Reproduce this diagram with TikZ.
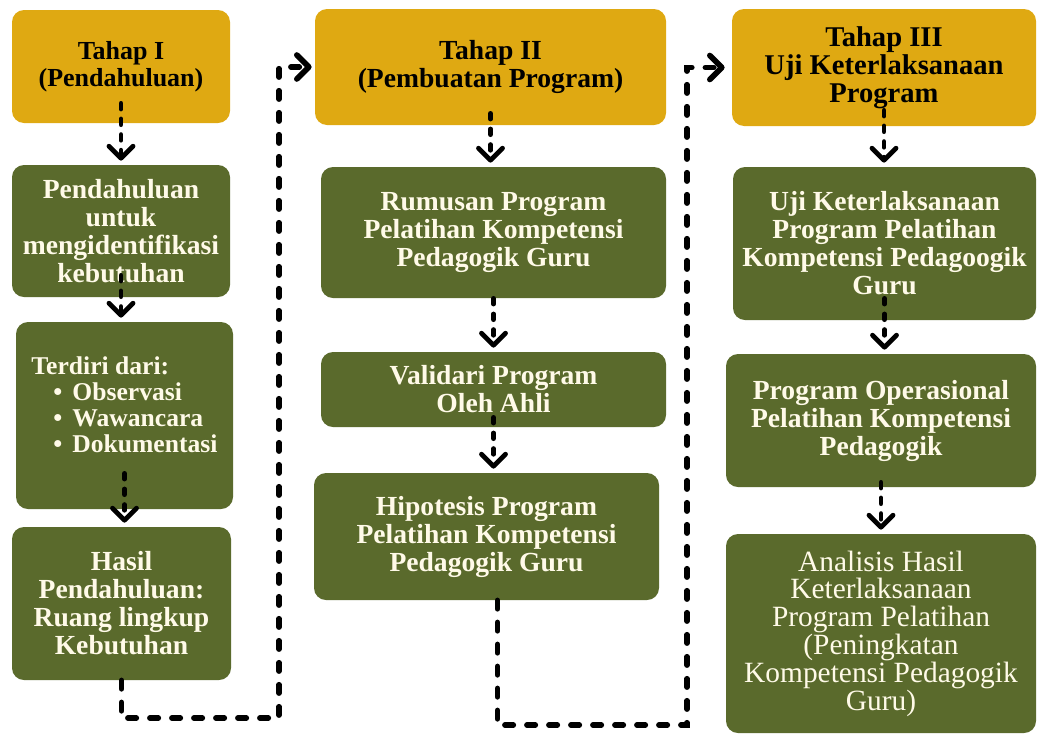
\documentclass[tikz,border=0pt]{standalone}
\usepackage{fontspec}
\setmainfont{Liberation Serif}
\usepackage{xcolor}
\usetikzlibrary{arrows.meta}
\definecolor{kuning}{RGB}{223,169,18}
\definecolor{hijau}{RGB}{90,106,44}
\definecolor{krem}{RGB}{255,250,232}
\tikzset{tahap/.style={fill=kuning, rounded corners=6pt, align=center, inner sep=0pt, text=black, font=\fontsize{13.8}{14}\selectfont\bfseries},
  kegiatan/.style={fill=hijau, rounded corners=6pt, align=center, inner sep=0pt, text=krem, font=\fontsize{13.8}{14}\selectfont\bfseries},
  alur/.style={line width=2.4pt, dash pattern=on 2.8pt off 5pt, line cap=round, -{Straight Barb[length=6pt,width=12pt,round]}, shorten >=2pt},
  alurpanjang/.style={line width=2.8pt, dash pattern=on 4.2pt off 6.8pt, line cap=round, -{Straight Barb[length=6pt,width=12pt,round]}}}

\begin{document}
\begin{tikzpicture}[x=0.5pt,y=-0.5pt]
\useasboundingbox (0,0) rectangle (1037,734);
%% Tahap I
\node (tahapI) at (121,66.5) [tahap, minimum width=109pt, minimum height=56.5pt, font=\fontsize{13}{13.5}\selectfont\bfseries] {Tahap I\\(Pendahuluan)};
  \node (pend) at (121,231) [kegiatan, minimum width=109pt, minimum height=66pt] {Pendahuluan\\untuk\\mengidentifikasi\\kebutuhan};
  \node (terdiri) at (124.5,415.5) [kegiatan, minimum width=108.5pt, minimum height=93.5pt, align=left, font=\fontsize{12.8}{13}\selectfont\bfseries] {Terdiri dari:\\\hspace*{11pt}\textbullet\hspace{5pt}Observasi\\\hspace*{11pt}\textbullet\hspace{5pt}Wawancara\\\hspace*{11pt}\textbullet\hspace{5pt}Dokumentasi\\[-2pt]\mbox{}};
  \node (hasil) at (121.5,603.5) [kegiatan, minimum width=109.5pt, minimum height=76.5pt] {Hasil\\Pendahuluan:\\Ruang lingkup\\Kebutuhan};
%% Tahap II
\node (tahapII) at (490.5,67) [tahap, minimum width=175.5pt, minimum height=58pt] {Tahap II\\(Pembuatan Program)};
  \node (rumusan) at (493.5,232.5) [kegiatan, minimum width=172.5pt, minimum height=65.5pt] {Rumusan Program\\Pelatihan Kompetensi\\Pedagogik Guru};
  \node (validari) at (493.5,389.5) [kegiatan, minimum width=172.5pt, minimum height=37.5pt] {Validari Program\\Oleh Ahli};
  \node (hipo) at (486.5,536.5) [kegiatan, minimum width=172.5pt, minimum height=63.5pt] {Hipotesis Program\\Pelatihan Kompetensi\\Pedagogik Guru};
%% Tahap III
\node (tahapIII) at (884,67.5) [tahap, minimum width=152pt, minimum height=58.5pt, font=\fontsize{14.3}{14}\selectfont\bfseries] {Tahap III\\Uji Keterlaksanaan\\Program};
  \node (uji) at (884.5,243.5) [kegiatan, minimum width=151.5pt, minimum height=76.5pt] {Uji Keterlaksanaan\\Program Pelatihan\\Kompetensi Pedagoogik\\Guru};
  \node (progop) at (881,420.5) [kegiatan, minimum width=155pt, minimum height=66.5pt] {Program Operasional\\Pelatihan Kompetensi\\Pedagogik};
  \node (analisis) at (881,633.5) [kegiatan, minimum width=155pt, minimum height=99.5pt, font=\fontsize{14.7}{13.9}\selectfont] {Analisis Hasil\\Keterlaksanaan\\Program Pelatihan\\(Peningkatan\\Kompetensi Pedagogik\\Guru)};
%% alur
\draw [alur] ([yshift=10pt]tahapI.south) -- (tahapI.south |- pend.north);
  \draw [alur] ([yshift=11pt]pend.south) -- (pend.south |- terdiri.north);
  \draw [alur] ([yshift=18pt]terdiri.south) -- (terdiri.south |- hasil.north);
  \draw [alur] ([yshift=6pt]tahapII.south) -- (tahapII.south |- rumusan.north);
  \draw [alur] (rumusan.south) -- (rumusan.south |- validari.north);
  \draw [alur] ([yshift=5pt]validari.south) -- (validari.south |- hipo.north);
  \draw [alur] ([yshift=8pt]tahapIII.south) -- (tahapIII.south |- uji.north);
  \draw [alur] ([yshift=11pt]uji.south) -- (uji.south |- progop.north);
  \draw [alur] ([yshift=2.5pt]progop.south) -- (progop.south |- analisis.north);
\coordinate (belokA) at (279,718);
  \coordinate (belokB) at (687,725);
  \draw [alurpanjang, shorten >=1.5pt] (hasil.south) |- (belokA) |- (tahapII.west);
  \draw [alurpanjang, shorten >=3.5pt] ([xshift=5.5pt]hipo.south) |- (belokB) |- (tahapIII.west);
%
\end{tikzpicture}
\end{document}
